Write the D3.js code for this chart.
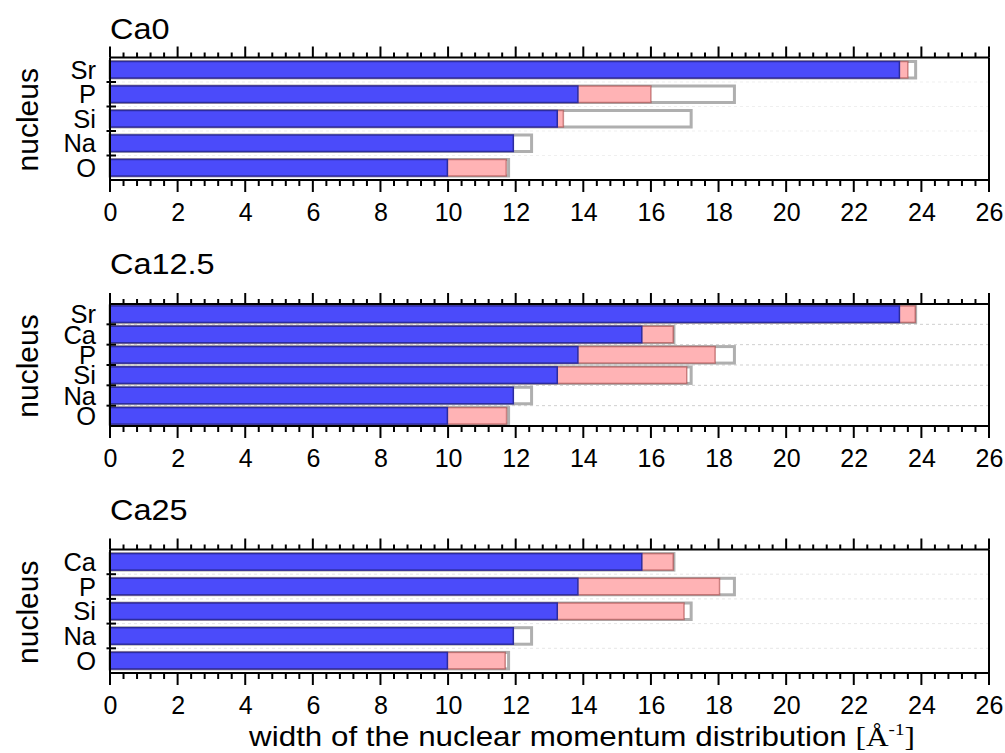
<!DOCTYPE html>
<html>
<head>
<meta charset="utf-8">
<script src="https://cdn.jsdelivr.net/npm/d3@7"></script>
<style>
  html, body { margin: 0; padding: 0; background: #fff; }
  svg { display: block; }
  text { font-family: "Liberation Sans", Arial, sans-serif; fill: #000; }
</style>
</head>
<body>
<svg id="chart" width="1005" height="753"></svg>
<script>
// ---- data ----
const panelTitles = ["Ca0", "Ca12.5", "Ca25"];

const ca0Nuclei   = ["Sr", "P", "Si", "Na", "O"];
const ca0Blue     = [23.35, 13.84, 13.23, 11.93, 9.98];
const ca0Pink     = [23.60, 16.00, 13.41, null, 11.72];
const ca0Outline  = [23.83, 18.47, 17.19, 12.47, 11.79];

const ca125Nuclei  = ["Sr", "Ca", "P", "Si", "Na", "O"];
const ca125Blue    = [23.35, 15.73, 13.84, 13.23, 11.93, 9.98];
const ca125Pink    = [23.82, 16.66, 17.90, 17.06, null, 11.73];
const ca125Outline = [23.83, 16.68, 18.47, 17.19, 12.47, 11.79];

const ca25Nuclei  = ["Ca", "P", "Si", "Na", "O"];
const ca25Blue    = [15.73, 13.84, 13.23, 11.93, 9.98];
const ca25Pink    = [16.66, 18.03, 16.98, null, 11.69];
const ca25Outline = [16.68, 18.47, 17.19, 12.47, 11.79];

const xMajorTicks = [0, 2, 4, 6, 8, 10, 12, 14, 16, 18, 20, 22, 24, 26];
const xDomain = [0, 26];

// ---- layout ----
const svg = d3.select("#chart");
const x = d3.scaleLinear().domain(xDomain).range([110, 989]);
const minorTicks = d3.range(0, 26.0001, 0.4).filter(v => Math.abs(v / 2 - Math.round(v / 2)) > 1e-6);

const panels = [
  { title: panelTitles[0], nuclei: ca0Nuclei, blue: ca0Blue, pink: ca0Pink, outline: ca0Outline,
    top: 57.5, bottom: 180, titleY: 39, grid: "#efefef" },
  { title: panelTitles[1], nuclei: ca125Nuclei, blue: ca125Blue, pink: ca125Pink, outline: ca125Outline,
    top: 304, bottom: 426, titleY: 274, grid: "#cfcfcf" },
  { title: panelTitles[2], nuclei: ca25Nuclei, blue: ca25Blue, pink: ca25Pink, outline: ca25Outline,
    top: 549.5, bottom: 673, titleY: 520, grid: "#e6e6e6" }
];

const barH = 16.5;
const SX = 1.12;  // horizontal stretch of the reference's lettering

panels.forEach(p => {
  const g = svg.append("g");
  const y = d3.scaleBand().domain(p.nuclei).range([p.top, p.bottom]).padding(0);
  const rows = p.nuclei.map((n, i) => ({ n, b: p.blue[i], k: p.pink[i], o: p.outline[i] }));

  // dashed grid at band boundaries
  const bounds = p.nuclei.slice(1).map(n => y(n));
  g.selectAll(".grid").data(bounds).join("line")
    .attr("x1", x(0)).attr("x2", x(26))
    .attr("y1", d => d).attr("y2", d => d)
    .attr("stroke", p.grid).attr("stroke-width", 1).attr("stroke-dasharray", "3,3");

  const yc = d => y(d.n) + y.bandwidth() / 2 - barH / 2;

  // grey outline bar
  g.selectAll(".outline").data(rows).join("rect")
    .attr("x", x(0)).attr("y", yc)
    .attr("width", d => x(d.o) - x(0)).attr("height", barH)
    .attr("fill", "#fff").attr("stroke", "#afafaf").attr("stroke-width", 3);

  // pink bar
  g.selectAll(".pink").data(rows.filter(d => d.k != null)).join("rect")
    .attr("x", x(0)).attr("y", yc)
    .attr("width", d => x(d.k) - x(0)).attr("height", barH)
    .attr("fill", "#ffb3b5").attr("stroke", "rgba(160,60,60,0.55)").attr("stroke-width", 1.5);

  // blue bar
  g.selectAll(".blue").data(rows).join("rect")
    .attr("x", x(0)).attr("y", yc)
    .attr("width", d => x(d.b) - x(0)).attr("height", barH)
    .attr("fill", "#4b4bfa").attr("stroke", "#2c2c9e").attr("stroke-width", 1.5);

  // frame
  const ax = g.append("g").attr("stroke", "#000").attr("stroke-width", 2).attr("fill", "none");
  ax.append("line").attr("x1", x(0)).attr("x2", x(26)).attr("y1", p.top).attr("y2", p.top);
  ax.append("line").attr("x1", x(0)).attr("x2", x(26)).attr("y1", p.bottom).attr("y2", p.bottom);
  ax.append("line").attr("x1", x(0)).attr("x2", x(0)).attr("y1", p.top).attr("y2", p.bottom);
  ax.append("line").attr("x1", x(26)).attr("x2", x(26)).attr("y1", p.top).attr("y2", p.bottom);

  // top ticks (outward, up)
  ax.selectAll(".tmaj").data(xMajorTicks).join("line")
    .attr("x1", d => x(d)).attr("x2", d => x(d)).attr("y1", p.top).attr("y2", p.top - 11);
  ax.selectAll(".tmin").data(minorTicks).join("line")
    .attr("x1", d => x(d)).attr("x2", d => x(d)).attr("y1", p.top).attr("y2", p.top - 5);
  // bottom ticks (outward, down)
  ax.selectAll(".bmaj").data(xMajorTicks).join("line")
    .attr("x1", d => x(d)).attr("x2", d => x(d)).attr("y1", p.bottom).attr("y2", p.bottom + 12);
  ax.selectAll(".bmin").data(minorTicks).join("line")
    .attr("x1", d => x(d)).attr("x2", d => x(d)).attr("y1", p.bottom).attr("y2", p.bottom + 6);
  // left ticks at band boundaries
  ax.selectAll(".lt").data(bounds).join("line")
    .attr("x1", x(0) - 3.5).attr("x2", x(0) + 6).attr("y1", d => d).attr("y2", d => d);

  // bottom tick labels via d3 axis (text only)
  const axisG = g.append("g").attr("transform", `translate(0,${p.bottom})`)
    .call(d3.axisBottom(x).tickValues(xMajorTicks).tickSize(0).tickPadding(41).tickFormat(d3.format("d")));
  axisG.select(".domain").remove();
  axisG.selectAll("text").attr("font-size", 25).attr("font-family", "Liberation Sans, Arial, sans-serif")
    .attr("dy", "0").attr("fill", "#000");

  // category labels
  g.selectAll(".cat").data(p.nuclei).join("text")
    .attr("transform", d => `translate(96,${y(d) + y.bandwidth() / 2}) scale(1.02,1)`)
    .attr("dy", "0.36em").attr("text-anchor", "end").attr("font-size", 25).text(d => d);

  // y title
  g.append("text").attr("transform", `translate(38,${(p.top + p.bottom) / 2 + 1}) rotate(-90)`)
    .attr("text-anchor", "middle").attr("font-size", 30).text("nucleus");

  // panel title
  g.append("text").attr("transform", `translate(110,${p.titleY}) scale(${SX},1)`)
    .attr("font-size", 29).text(p.title);
});

// x axis title
const xt = svg.append("text").attr("transform", `translate(582,746) scale(${SX},1)`)
  .attr("text-anchor", "middle").attr("font-size", 28);
xt.append("tspan").text("width of the nuclear momentum distribution ");
xt.append("tspan").attr("font-family", "Liberation Serif, Times New Roman, serif").text("[Å");
xt.append("tspan").attr("font-family", "Liberation Serif, Times New Roman, serif").attr("font-size", 17).attr("dy", -11).text("-1");
xt.append("tspan").attr("font-family", "Liberation Serif, Times New Roman, serif").attr("dy", 11).text("]");
</script>
</body>
</html>
